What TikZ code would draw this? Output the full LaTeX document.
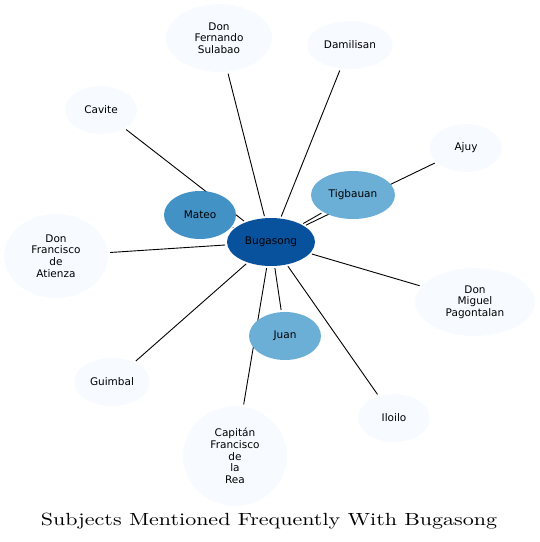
\documentclass[tikz,border=0pt]{standalone}
\usepackage{fontspec}
\usetikzlibrary{backgrounds,shapes.geometric}
\newfontfamily\nodefont{DejaVu Sans}
\definecolor{BluesA}{HTML}{F7FBFF}
\definecolor{BluesB}{HTML}{6BAED6}
\definecolor{BluesC}{HTML}{4292C6}
\definecolor{BluesD}{HTML}{08519C}

\begin{document}
\begin{tikzpicture}[
  x=1pt, y=-1pt,
  every node/.style={font=\nodefont\fontsize{10.5}{11.7}\selectfont},
  ent/.style={ellipse, align=center, inner sep=0pt,
              minimum width=72pt, minimum height=48pt},
  faint/.style={ent, fill=BluesA},
  light/.style={ent, fill=BluesB},
  mid/.style  ={ent, fill=BluesC},
  hub/.style  ={ent, fill=BluesD, minimum width=88pt},
  link/.style={line width=0.9pt, shorten >=2pt, shorten <=2pt},
]
\useasboundingbox (0,0) rectangle (540,542);

%% ── Centre ───────────────────────────────────
\node[hub]   at (271,242) (bug)  {Bugasong};

%% ── Close neighbours ─────────────────────────
\node[mid]   at (200,215) (mat)  {Mateo};
\node[light, minimum width=84pt] at (353,195) (tig) {Tigbauan};
\node[light] at (285,336) (jua)  {Juan};

%% ── Outer ring ───────────────────────────────
\node[faint, minimum width=106pt, minimum height=68pt]
             at (219,38)  (fer)  {Don\\Fernando\\Sulabao};
\node[faint, minimum width=86pt]
             at (350,45)  (dam)  {Damilisan};
\node[faint] at (101,110) (cav)  {Cavite};
\node[faint] at (466,148) (ajy)  {Ajuy};
\node[faint, minimum width=104pt, minimum height=84pt]
             at (56,256)  (ati)  {Don\\Francisco\\de\\Atienza};
\node[faint, minimum width=120pt, minimum height=68pt]
             at (475,302) (pag)  {Don\\Miguel\\Pagontalan};
\node[faint, minimum width=76pt]
             at (112,382) (gui)  {Guimbal};
\node[faint] at (394,418) (ilo)  {Iloilo};
\node[faint, minimum width=104pt, minimum height=100pt]
             at (235,456) (rea)  {Capitán\\Francisco\\de\\la\\Rea};

%% ── Title ────────────────────────────────────
\node[font=\fontsize{10}{12}\selectfont, xscale=2.2, yscale=1.76]
    at (269,521) (ttl) {Subjects Mentioned Frequently With Bugasong};

%% ── Links (behind the nodes) ─────────────────
\begin{pgfonlayer}{background}
\foreach \n in {fer,dam,cav,mat,tig,ajy,ati,pag,gui,jua,rea,ilo}
  \draw[link] (bug) -- (\n);
\end{pgfonlayer}

\end{tikzpicture}
\end{document}
